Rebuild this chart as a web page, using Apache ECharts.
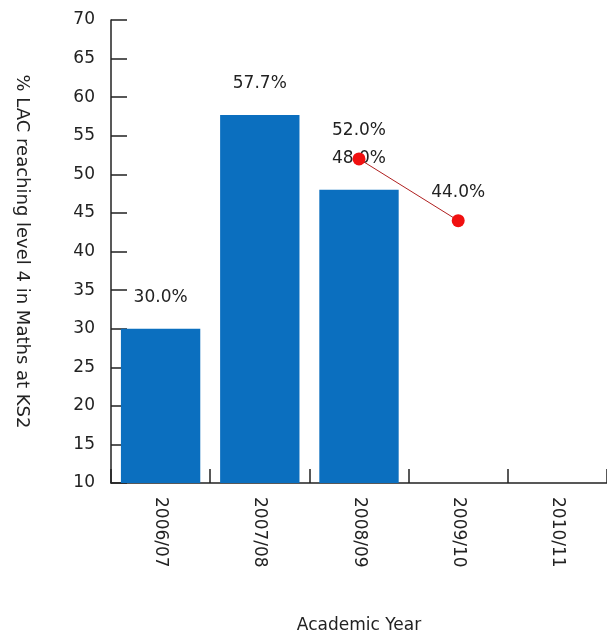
<!DOCTYPE html>
<html>
<head>
<meta charset="utf-8">
<script src="https://cdn.jsdelivr.net/npm/echarts@6/dist/echarts.min.js"></script>
<style>
  html, body { margin: 0; padding: 0; background: #fff; }
  #chart { width: 607px; height: 635px; }
</style>
</head>
<body>
<div id="chart"></div>
<script>
// Academic years on the category axis
const years = ['2006/07', '2007/08', '2008/09', '2009/10', '2010/11'];
// Percentage of looked-after children reaching level 4 (bars: actual results)
const actualPct = [30.0, 57.7, 48.0, null, null];
// Target line values
const targetPct = [null, null, 52.0, 44.0, null];
// Value axis range
const yMin = 10, yMax = 70, yStep = 5;

const font = '"DejaVu Sans", Verdana, sans-serif';
const ink = '#222';
const pct = p => p.value == null ? '' : Number(p.value).toFixed(1) + '%';

const chart = echarts.init(document.getElementById('chart'), null, { renderer: 'canvas' });
chart.setOption({
  animation: false,
  backgroundColor: '#ffffff',
  textStyle: { fontFamily: font },
  grid: {
    left: 111, right: 0, top: 20, bottom: 152,
    containLabel: false,
    outerBoundsMode: 'none'
  },
  xAxis: {
    type: 'category',
    data: years,
    boundaryGap: true,
    name: 'Academic Year',
    nameLocation: 'middle',
    nameGap: 134,
    nameTextStyle: { color: ink, fontSize: 17, fontFamily: font },
    axisLine: { lineStyle: { color: ink, width: 1.5 } },
    axisTick: { show: true, inside: true, length: 14, alignWithLabel: false, lineStyle: { color: ink, width: 1.5 } },
    axisLabel: { rotate: -90, margin: 14, color: ink, fontSize: 17, fontFamily: font }
  },
  yAxis: {
    type: 'value',
    min: yMin,
    max: yMax,
    interval: yStep,
    name: '% LAC reaching level 4 in Maths at KS2',
    nameLocation: 'middle',
    nameRotate: -90,
    nameGap: 80,
    nameTextStyle: { color: ink, fontSize: 18, fontFamily: font },
    axisLine: { show: true, lineStyle: { color: ink, width: 1.5 } },
    axisTick: { show: true, inside: true, length: 16, lineStyle: { color: ink, width: 1.5 } },
    splitLine: { show: false },
    axisLabel: { margin: 16, color: ink, fontSize: 17, fontFamily: font }
  },
  series: [
    {
      type: 'bar',
      data: actualPct,
      barWidth: '80%',
      itemStyle: { color: '#0B6FBF' },
      label: {
        show: true,
        position: 'top',
        distance: 23,
        formatter: pct,
        color: ink,
        fontSize: 17,
        fontFamily: font
      }
    },
    {
      type: 'line',
      data: targetPct,
      connectNulls: false,
      symbol: 'circle',
      symbolSize: 13,
      lineStyle: { color: '#B02020', width: 1 },
      itemStyle: { color: '#F01010' },
      label: {
        show: true,
        position: 'top',
        distance: 13,
        formatter: pct,
        color: ink,
        fontSize: 17,
        fontFamily: font
      },
      z: 5
    }
  ]
});
</script>
</body>
</html>
